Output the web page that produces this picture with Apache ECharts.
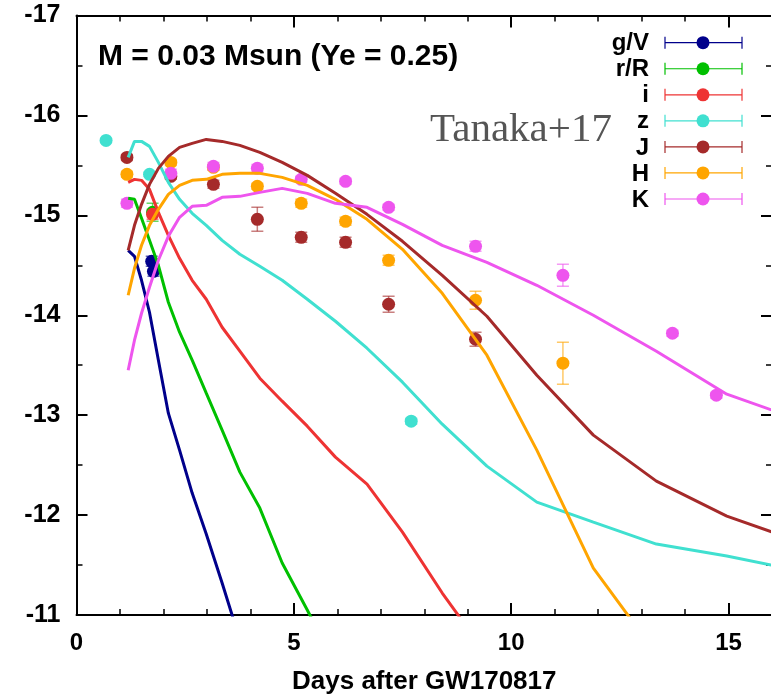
<!DOCTYPE html>
<html>
<head>
<meta charset="utf-8">
<script src="https://cdn.jsdelivr.net/npm/echarts@6/dist/echarts.min.js"></script>
<style>
  html, body { margin: 0; padding: 0; background: #fff; }
  #chart { width: 771px; height: 696px; }
</style>
</head>
<body>
<div id="chart"></div>
<script>
// Model light curves (absolute magnitude) sampled on a logarithmic time grid (days)
const modelDays = [1.189, 1.334, 1.496, 1.679, 1.884, 2.113, 2.371, 2.661, 2.985, 3.350, 3.758, 4.217, 4.732, 5.309, 5.957, 6.683, 7.499, 8.414, 9.441, 10.59, 11.89, 13.34, 14.96, 16.79];

const modelGV = [-14.65, -14.59, -14.35, -14.03, -13.55, -13.02, -12.65, -12.22, -11.81, -11.32, -10.75];
const modelRR = [-15.17, -15.16, -14.97, -14.75, -14.50, -14.13, -13.83, -13.55, -13.22, -12.85, -12.43, -12.07, -11.52, -11.05, -10.50];
const modelI  = [-15.33, -15.36, -15.35, -15.26, -15.03, -14.80, -14.57, -14.35, -14.16, -13.88, -13.64, -13.37, -13.14, -12.89, -12.58, -12.31, -11.83, -11.22, -10.60];
const modelZ  = [-15.58, -15.74, -15.74, -15.69, -15.53, -15.33, -15.16, -15.02, -14.90, -14.75, -14.61, -14.49, -14.35, -14.16, -13.94, -13.67, -13.33, -12.91, -12.49, -12.13, -11.93, -11.71, -11.59, -11.43];
const modelJ  = [-14.65, -14.90, -15.11, -15.31, -15.47, -15.59, -15.68, -15.72, -15.76, -15.74, -15.70, -15.63, -15.53, -15.40, -15.22, -15.01, -14.74, -14.40, -13.99, -13.40, -12.80, -12.34, -11.99, -11.71];
const modelH  = [-14.20, -14.47, -14.70, -14.90, -15.06, -15.21, -15.30, -15.35, -15.36, -15.41, -15.42, -15.42, -15.38, -15.30, -15.16, -14.96, -14.66, -14.22, -13.60, -12.65, -11.47, -10.61];
const modelK  = [-13.45, -13.75, -14.02, -14.28, -14.55, -14.79, -14.98, -15.09, -15.10, -15.18, -15.19, -15.23, -15.27, -15.22, -15.12, -15.08, -14.91, -14.70, -14.53, -14.30, -14.00, -13.64, -13.21, -12.93];

// Observed photometry: [days, magnitude, error]
const obsGV = [[1.73, -14.54, 0.05], [1.77, -14.44, 0.05]];
const obsRR = [[1.75, -15.03, 0.09]];
const obsI  = [[1.75, -15.01, 0.05]];
const obsZ  = [[0.68, -15.75, 0.02], [1.68, -15.41, 0.02], [7.70, -12.94, 0.03]];
const obsJ  = [[1.16, -15.58, 0.03], [2.17, -15.39, 0.03], [3.15, -15.31, 0.04], [4.16, -14.96, 0.12],
               [5.17, -14.78, 0.05], [6.19, -14.73, 0.05], [7.18, -14.11, 0.08], [9.18, -13.76, 0.07]];
const obsH  = [[1.16, -15.41, 0.03], [2.17, -15.53, 0.03], [3.15, -15.48, 0.03], [4.16, -15.29, 0.03],
               [5.17, -15.12, 0.04], [6.19, -14.94, 0.04], [7.18, -14.55, 0.05], [9.18, -14.15, 0.09],
               [11.19, -13.52, 0.21]];
const obsK  = [[1.16, -15.12, 0.04], [2.17, -15.42, 0.04], [3.15, -15.49, 0.04], [4.16, -15.47, 0.04],
               [5.17, -15.36, 0.03], [6.19, -15.34, 0.03], [7.18, -15.08, 0.03], [9.18, -14.69, 0.05],
               [11.19, -14.40, 0.11], [13.71, -13.82, 0.03], [14.72, -13.20, 0.03]];

const bandNames = ['g/V', 'r/R', 'i', 'z', 'J', 'H', 'K'];
const bandColors = ['#00008B', '#00C000', '#EE3333', '#40E0D0', '#A52A2A', '#FFA500', '#EE55EE'];
const models = [modelGV, modelRR, modelI, modelZ, modelJ, modelH, modelK];
const observations = [obsGV, obsRR, obsI, obsZ, obsJ, obsH, obsK];

const FONT = '"Liberation Sans", Arial, Helvetica, sans-serif';

const chart = echarts.init(document.getElementById('chart'), null, { renderer: 'canvas' });

function errorBarRender(params, api) {
  const x = api.value(0), y = api.value(1), e = api.value(2);
  const top = api.coord([x, y - e]);
  const bot = api.coord([x, y + e]);
  const half = 6;
  const style = { stroke: api.visual('color'), lineWidth: 1.5, opacity: 0.6 };
  return {
    type: 'group',
    children: [
      { type: 'line', shape: { x1: top[0], y1: top[1], x2: bot[0], y2: bot[1] }, style },
      { type: 'line', shape: { x1: top[0] - half, y1: top[1], x2: top[0] + half, y2: top[1] }, style },
      { type: 'line', shape: { x1: bot[0] - half, y1: bot[1], x2: bot[0] + half, y2: bot[1] }, style }
    ]
  };
}

const series = [];
bandNames.forEach((name, b) => {
  series.push({
    type: 'custom',
    name: name + ' err',
    renderItem: errorBarRender,
    data: observations[b],
    itemStyle: { color: bandColors[b] },
    encode: { x: 0, y: 1 },
    z: 2 + b * 0.01,
    clip: true,
    silent: true
  });
  series.push({
    type: 'scatter',
    name: name,
    data: observations[b].map(p => [p[0], p[1]]),
    symbol: 'circle',
    symbolSize: 13,
    itemStyle: { color: bandColors[b], opacity: 1 },
    z: 3 + b * 0.01,
    silent: true
  });
});
bandNames.forEach((name, b) => {
  series.push({
    type: 'line',
    name: name + ' model',
    data: models[b].map((m, i) => [modelDays[i], m]),
    symbol: 'none',
    lineStyle: { color: bandColors[b], width: 3 },
    clip: true,
    z: 4 + b * 0.01,
    silent: true,
    animation: false
  });
});

// Legend drawn as error-bar samples
const legendGraphics = [];
const legendTop = 42.7, legendStep = 26.05;
bandNames.forEach((name, b) => {
  const y = legendTop + b * legendStep;
  legendGraphics.push(
    { type: 'text', x: 649, y: y + 1, style: { text: name, fill: '#000', font: 'bold 24px ' + FONT, textAlign: 'right', textVerticalAlign: 'middle' } },
    { type: 'line', shape: { x1: 665, y1: y, x2: 742, y2: y }, style: { stroke: bandColors[b], lineWidth: 1.2 } },
    { type: 'line', shape: { x1: 665, y1: y - 6, x2: 665, y2: y + 6 }, style: { stroke: bandColors[b], lineWidth: 1.2 } },
    { type: 'line', shape: { x1: 742, y1: y - 6, x2: 742, y2: y + 6 }, style: { stroke: bandColors[b], lineWidth: 1.2 } },
    { type: 'circle', shape: { cx: 703, cy: y, r: 6.5 }, style: { fill: bandColors[b] } }
  );
});

const tickColor = '#000';
const baseX = {
  type: 'value', min: 0, max: 16, interval: 5,
  axisLine: { show: true, onZero: false, lineStyle: { color: tickColor, width: 2 } },
  axisTick: { show: true, inside: true, length: 12, lineStyle: { color: tickColor, width: 2 } },
  minorTick: { show: true, splitNumber: 5, length: 6, lineStyle: { color: tickColor, width: 1.5 } },
  splitLine: { show: false },
  minorSplitLine: { show: false }
};
const baseY = {
  type: 'value', min: -17, max: -11, interval: 1, inverse: true,
  axisLine: { show: true, onZero: false, lineStyle: { color: tickColor, width: 2 } },
  axisTick: { show: true, inside: true, length: 11, lineStyle: { color: tickColor, width: 2 } },
  minorTick: { show: true, splitNumber: 2, length: 6, lineStyle: { color: tickColor, width: 1.5 } },
  splitLine: { show: false },
  minorSplitLine: { show: false }
};

chart.setOption({
  animation: false,
  backgroundColor: '#fff',
  grid: { left: 76.5, right: -1, top: 15.5, bottom: 81, containLabel: false, outerBoundsMode: 'none' },
  xAxis: [
    Object.assign({}, baseX, {
      position: 'bottom',
      axisLabel: { show: true, showMaxLabel: false, color: '#000', fontSize: 24, fontWeight: 'bold', fontFamily: FONT, margin: 16 },
      name: 'Days after GW170817', nameLocation: 'middle', nameGap: 54,
      nameTextStyle: { color: '#000', fontSize: 26, fontWeight: 'bold', fontFamily: FONT }
    }),
    Object.assign({}, baseX, { position: 'top', axisLabel: { show: false } })
  ],
  yAxis: [
    Object.assign({}, baseY, {
      position: 'left',
      axisLabel: { show: true, color: '#000', fontSize: 25, fontWeight: 'bold', fontFamily: FONT, margin: 16 }
    }),
    Object.assign({}, baseY, { position: 'right', axisLine: { show: false, onZero: false }, axisLabel: { show: false } })
  ],
  series: series,
  graphic: [
    { type: 'text', x: 98, y: 57, style: { text: 'M = 0.03 Msun (Ye = 0.25)', fill: '#000', font: 'bold 30px ' + FONT, textVerticalAlign: 'middle' } },
    { type: 'text', x: 430, y: 130, style: { text: 'Tanaka+17', fill: '#555', font: '41px "Liberation Serif", "Times New Roman", serif', textVerticalAlign: 'middle' } }
  ].concat(legendGraphics)
});
</script>
</body>
</html>
